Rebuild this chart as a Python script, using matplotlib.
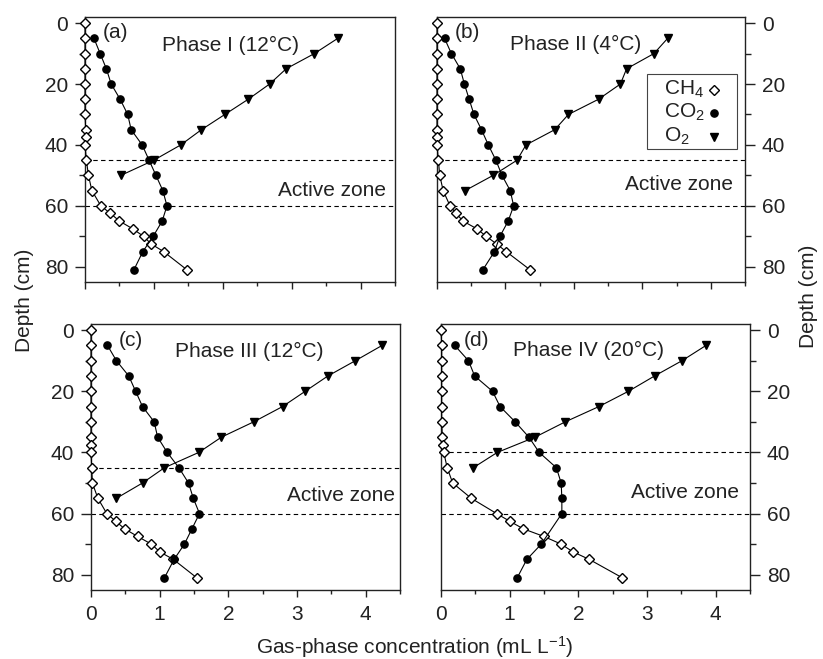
import matplotlib
matplotlib.use("Agg")
import matplotlib.pyplot as plt
from matplotlib.ticker import MultipleLocator
from matplotlib.patches import Rectangle

plt.rcParams['font.family'] = ['Liberation Sans', 'DejaVu Sans']
plt.rcParams['mathtext.fontset'] = 'custom'
plt.rcParams['mathtext.rm'] = 'Liberation Sans'
plt.rcParams['mathtext.it'] = 'Liberation Sans:italic'

# ---------------- data ----------------
ch4_depth = [0, 5, 10, 15, 20, 25, 30, 35, 37.5, 40, 45, 50, 55, 60, 62.5, 65, 67.5, 70, 72.5, 75, 81]
ch4_a = [0.0, 0.0, 0.0, 0.0, 0.0, 0.0, 0.0, 0.01, 0.01, 0.0, 0.02, 0.05, 0.1, 0.23, 0.37, 0.5, 0.69, 0.85, 0.96, 1.14, 1.48]
ch4_b = [0.0, 0.0, 0.0, 0.0, 0.0, 0.0, 0.0, 0.0, 0.0, 0.0, 0.02, 0.04, 0.09, 0.19, 0.28, 0.38, 0.58, 0.72, 0.87, 1.01, 1.36]
ch4_c = [0.0, 0.0, 0.0, 0.0, 0.0, 0.0, 0.0, 0.0, 0.0, 0.0, 0.01, 0.02, 0.1, 0.23, 0.36, 0.49, 0.68, 0.88, 1.0, 1.2, 1.54]
ch4_d = [0.0, 0.01, 0.01, 0.01, 0.01, 0.01, 0.01, 0.02, 0.03, 0.04, 0.09, 0.17, 0.44, 0.81, 1.0, 1.2, 1.5, 1.75, 1.92, 2.16, 2.64]

co2_depth = [5, 10, 15, 20, 25, 30, 35, 40, 45, 50, 55, 60, 65, 70, 75, 81]
co2_a = [0.13, 0.22, 0.31, 0.38, 0.51, 0.62, 0.67, 0.83, 0.93, 1.03, 1.13, 1.19, 1.12, 0.99, 0.84, 0.71]
co2_b = [0.11, 0.21, 0.34, 0.40, 0.47, 0.54, 0.65, 0.75, 0.86, 0.95, 1.07, 1.12, 1.04, 0.92, 0.84, 0.67]
co2_c = [0.24, 0.37, 0.55, 0.65, 0.75, 0.92, 0.97, 1.11, 1.28, 1.42, 1.49, 1.58, 1.47, 1.36, 1.21, 1.07]
co2_d_depth = [5, 10, 15, 20, 25, 30, 35, 40, 45, 50, 55, 60, 70, 75, 81]
co2_d = [0.20, 0.40, 0.49, 0.75, 0.86, 1.08, 1.28, 1.43, 1.68, 1.75, 1.76, 1.76, 1.46, 1.25, 1.11]

o2_depth_a = [5, 10, 15, 20, 25, 30, 35, 40, 45, 50]
o2_a = [3.67, 3.33, 2.92, 2.68, 2.37, 2.03, 1.69, 1.39, 1.0, 0.52]
o2_depth_b = [5, 10, 15, 20, 25, 30, 35, 40, 45, 50, 55]
o2_b = [3.37, 3.17, 2.77, 2.68, 2.36, 1.92, 1.72, 1.30, 1.17, 0.82, 0.41]
o2_depth_c = [5, 10, 15, 20, 25, 30, 35, 40, 45, 50, 55]
o2_c = [4.24, 3.85, 3.45, 3.12, 2.79, 2.37, 1.90, 1.57, 1.07, 0.75, 0.37]
o2_depth_d = [5, 10, 15, 20, 25, 30, 35, 40, 45]
o2_d = [3.86, 3.51, 3.11, 2.73, 2.30, 1.81, 1.37, 0.82, 0.47]

panel_labels = ['(a)', '(b)', '(c)', '(d)']
phase_titles = ['Phase I (12°C)', 'Phase II (4°C)', 'Phase III (12°C)', 'Phase IV (20°C)']
zone_top = [45, 45, 45, 40]
zone_bottom = [60, 60, 60, 60]
zone_text = 'Active zone'
legend_labels = ['CH$_4$', 'CO$_2$', 'O$_2$']
x_label = 'Gas-phase concentration (mL L$^{-1}$)'
y_label = 'Depth (cm)'

panels = [
    (ch4_a, co2_depth, co2_a, o2_depth_a, o2_a),
    (ch4_b, co2_depth, co2_b, o2_depth_b, o2_b),
    (ch4_c, co2_depth, co2_c, o2_depth_c, o2_c),
    (ch4_d, co2_d_depth, co2_d, o2_depth_d, o2_d),
]

# ---------------- styles ----------------
styles = [
    dict(marker='D', ms=4.8, mfc='white', mec='black', mew=1.0),
    dict(marker='o', ms=5.2, mfc='black', mec='black'),
    dict(marker='v', ms=6.2, mfc='black', mec='black'),
]

# ---------------- layout ----------------
W, H = 823, 659
fig = plt.figure(figsize=(W / 100, H / 100), dpi=100)

def rect(x0, y0, x1, y1):
    return [x0 / W, 1 - y1 / H, (x1 - x0) / W, (y1 - y0) / H]

rects = [rect(85, 17, 395, 282), rect(437, 17, 745, 282),
         rect(91, 324, 400, 590), rect(441, 324, 750, 590)]

label_pos = [(0.26, 3), (0.26, 3), (0.40, 3.5), (0.33, 3.3)]
title_pos = [(1.12, 7.5), (1.07, 7), (1.23, 7), (1.05, 6.5)]
zone_x = [4.37, 4.33, 4.43, 4.34]
zone_y = [55, 53, 54, 53]

FS = 15
TC = '#222222'
lw = 0.8
for i, (r, data) in enumerate(zip(rects, panels)):
    ax = fig.add_axes(r)
    ch4, cd, co2, od, o2 = data
    ax.plot(ch4, ch4_depth, color='black', lw=lw, zorder=3, clip_on=False, **styles[0])
    ax.plot(co2, cd, color='black', lw=lw, zorder=4, clip_on=False, **styles[1])
    ax.plot(o2, od, color='black', lw=lw, zorder=4, clip_on=False, **styles[2])
    for d in (zone_top[i], zone_bottom[i]):
        ax.axhline(d, color='black', lw=0.8, ls=(0, (4, 3)), zorder=1)
    ax.set_xlim(0, 4.5)
    ax.set_ylim(85, -2)
    ax.xaxis.set_major_locator(MultipleLocator(1))
    ax.xaxis.set_minor_locator(MultipleLocator(0.5))
    ax.yaxis.set_major_locator(MultipleLocator(20))
    ax.yaxis.set_minor_locator(MultipleLocator(10))
    ax.tick_params(which='both', direction='out', labelsize=FS, color=TC,
                   labelcolor=TC)
    ax.tick_params(axis='x', which='major', length=5, width=1.0, pad=6)
    ax.tick_params(axis='x', which='minor', length=3, width=1.0)
    ax.tick_params(axis='y', which='major', length=7, width=1.0, pad=5)
    ax.tick_params(axis='y', which='minor', length=4, width=1.0)
    if i in (1, 3):
        ax.yaxis.tick_right()
        ax.yaxis.set_label_position('right')
    if i in (0, 1):
        ax.tick_params(axis='x', labelbottom=False)
    for s in ax.spines.values():
        s.set_linewidth(1.0)
        s.set_color(TC)
    ax.text(label_pos[i][0], label_pos[i][1], panel_labels[i], fontsize=FS,
            ha='left', va='center', color=TC)
    ax.text(title_pos[i][0], title_pos[i][1], phase_titles[i], fontsize=FS,
            ha='left', va='center', color=TC)
    ax.text(zone_x[i], zone_y[i], zone_text, fontsize=FS, ha='right', va='center',
            color=TC)
    if i == 1:
        x0, y0, aw, ah = 437, 17, 308, 265
        fx = lambda px: (px - x0) / aw
        fy = lambda py: 1 - (py - y0) / ah
        ax.add_patch(Rectangle((fx(647), fy(149)), 90 / aw, 75 / ah,
                               transform=ax.transAxes, fill=False,
                               edgecolor='#444444', lw=0.8, zorder=5))
        rows_text = [94.5, 117.5, 141.5]
        rows_mark = [90, 113, 137]
        for lab, st, ty, my in zip(legend_labels, styles, rows_text, rows_mark):
            ax.text(fx(664), fy(ty), lab, transform=ax.transAxes, fontsize=FS,
                    ha='left', va='baseline', color=TC, zorder=6)
            ax.plot([fx(714)], [fy(my)], transform=ax.transAxes, ls='none',
                    clip_on=False, zorder=6, **st)

fig.text(25 / W, 1 - 300 / H, y_label, rotation=90, ha='center', va='center',
         fontsize=FS, color=TC)
fig.text(808 / W, 1 - 296 / H, y_label, rotation=90, ha='center', va='center',
         fontsize=FS, color=TC)
fig.text(415 / W, 1 - 647 / H, x_label, ha='center', va='center',
         fontsize=FS, color=TC)

fig.savefig('out.png', dpi=100)
